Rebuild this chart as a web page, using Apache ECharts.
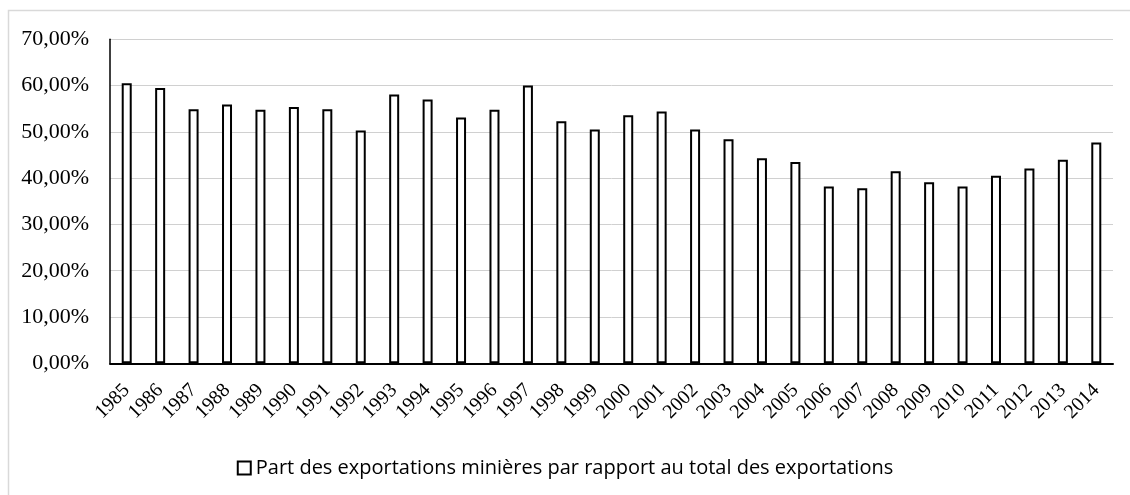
<!DOCTYPE html>
<html>
<head>
<meta charset="utf-8">
<script src="https://cdn.jsdelivr.net/npm/echarts@6/dist/echarts.min.js"></script>
<style>
  html, body { margin: 0; padding: 0; background: #ffffff; }
  #chart { width: 1130px; height: 495px; }
</style>
</head>
<body>
<div id="chart"></div>
<script>
// Years on the category axis
const years = ['1985','1986','1987','1988','1989','1990','1991','1992','1993','1994',
  '1995','1996','1997','1998','1999','2000','2001','2002','2003','2004',
  '2005','2006','2007','2008','2009','2010','2011','2012','2013','2014'];

// Share of mining exports in total exports (%)
const miningShare = [60.5, 59.5, 54.9, 55.9, 54.8, 55.4, 54.9, 50.3, 58.1, 57.0,
  53.1, 54.8, 60.0, 52.3, 50.5, 53.6, 54.4, 50.5, 48.4, 44.3,
  43.5, 38.2, 37.8, 41.5, 39.1, 38.2, 40.5, 42.1, 44.0, 47.7];

const seriesName = 'Part des exportations minières par rapport au total des exportations';

const yMin = 0, yMax = 70, yStep = 10;

const chart = echarts.init(document.getElementById('chart'), null, { renderer: 'canvas' });

chart.setOption({
  animation: false,
  backgroundColor: '#ffffff',
  graphic: [{
    type: 'rect',
    silent: true,
    shape: { x: 8.5, y: 10.5, width: 1200, height: 600 },
    style: { fill: 'none', stroke: '#d9d9d9', lineWidth: 1.5 }
  }],
  grid: { left: 110, right: 17, top: 39.3, bottom: 131.7, containLabel: false },
  legend: {
    data: [seriesName],
    left: 'center',
    top: 453,
    icon: 'rect',
    itemWidth: 13,
    itemHeight: 13,
    itemGap: 4,
    textStyle: { fontFamily: 'Open Sans', fontSize: 20, color: '#000000' }
  },
  xAxis: {
    type: 'category',
    data: years,
    axisLine: { lineStyle: { color: '#000000', width: 2 } },
    axisTick: { show: false },
    axisLabel: {
      rotate: 45,
      interval: 0,
      margin: 24,
      fontFamily: 'Liberation Serif',
      fontSize: 20,
      color: '#000000'
    },
    splitLine: { show: false }
  },
  yAxis: {
    type: 'value',
    min: yMin,
    max: yMax,
    interval: yStep,
    axisLine: { show: true, lineStyle: { color: '#000000', width: 1.5 } },
    axisTick: { show: false },
    axisLabel: {
      margin: 21,
      fontFamily: 'Liberation Serif',
      fontSize: 22,
      color: '#000000',
      formatter: v => v.toFixed(2).replace('.', ',') + '%'
    },
    splitLine: { lineStyle: { color: '#d0d0d0', width: 1 } }
  },
  series: [{
    name: seriesName,
    type: 'bar',
    data: miningShare,
    barWidth: 10,
    itemStyle: { color: '#ffffff', borderColor: '#000000', borderWidth: 2 }
  }]
});
</script>
</body>
</html>
